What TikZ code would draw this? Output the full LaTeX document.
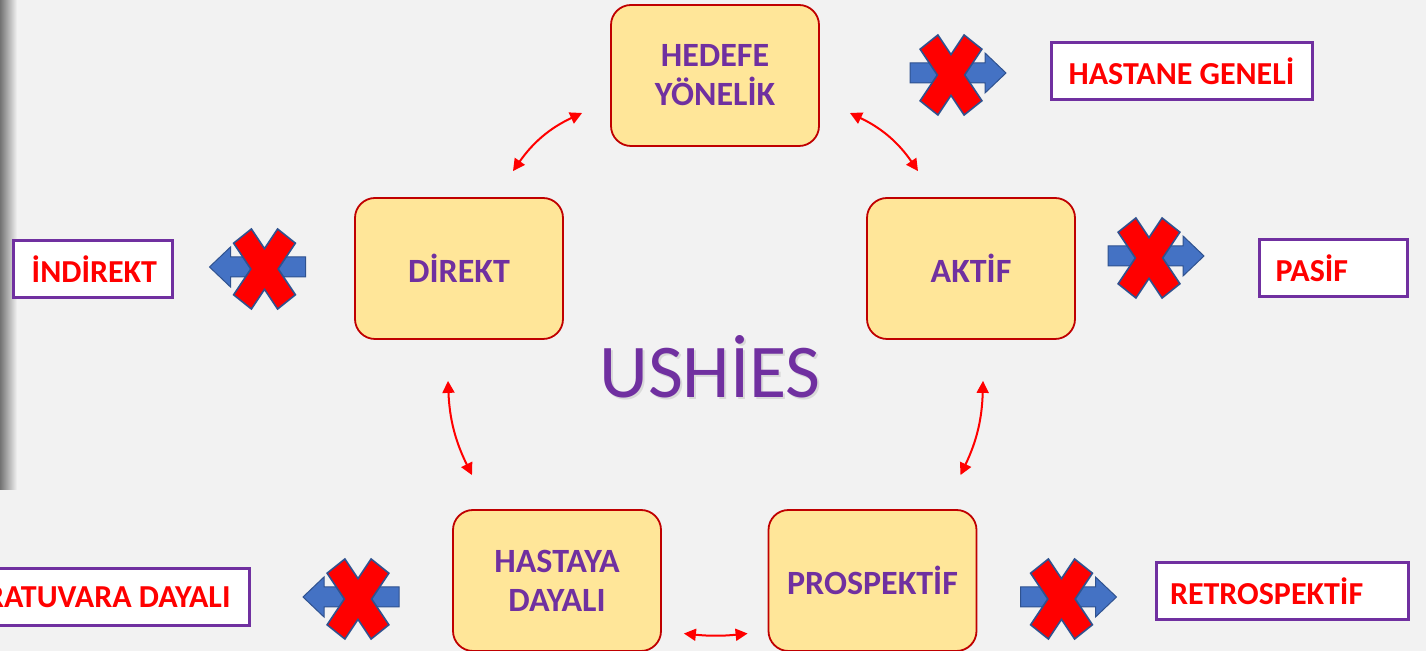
\documentclass[tikz,border=0pt]{standalone}
\usepackage{fontspec}
\setmainfont{Carlito}
\usetikzlibrary{arrows.meta,calc}
\definecolor{boxfill}{RGB}{255,230,153}
\definecolor{boxline}{RGB}{192,0,0}
\definecolor{txtpurple}{RGB}{112,48,160}
\definecolor{arrblue}{RGB}{68,114,196}
\definecolor{arrline}{RGB}{47,82,143}
\definecolor{slidebg}{RGB}{242,242,242}

\begin{document}
\begin{tikzpicture}[x=0.5pt, y=-0.5pt,
    box/.style={draw=boxline, line width=0.9pt, fill=boxfill, rounded corners=10pt, minimum width=104pt, minimum height=70.5pt, align=center, text=txtpurple, font=\fontsize{17}{19.5}\selectfont\bfseries},
    tag/.style={draw=txtpurple, line width=1.5pt, fill=white, minimum height=28.5pt, text=red, font=\fontsize{16}{19}\selectfont\bfseries},
    link/.style={red, line width=1pt, {Triangle[length=6pt,width=6pt]}-{Triangle[length=6pt,width=6pt]}},
    pics/nogo/.style={code={
        \fill[arrblue, draw=arrline, line width=0.5pt] (-48,-10) -- (27,-10) -- (27,-20) -- (48,0) -- (27,20) -- (27,10) -- (-48,10) -- cycle;
        \fill[red, draw=arrline, line width=0.8pt, shift={(-7,2)}] (-13.1,-40) -- (0,-20.4) -- (13.1,-40) -- (30.9,-25.8) -- (13.7,0) -- (30.9,25.8) -- (13.1,40) -- (0,20.4) -- (-13.1,40) -- (-30.9,25.8) -- (-13.7,0) -- (-30.9,-25.8) -- cycle;
    }}]
    \clip (0,0) rectangle (1426,651);
    \fill[slidebg] (0,0) rectangle (1426,651);
    \shade[left color=black!55, right color=slidebg] (0,0) rectangle (17,490);
    % Title
    \node[font=\fontsize{38}{40}\selectfont, text=black!15] (titleshadow) at (712,369) {USHİES};
    \node[font=\fontsize{38}{40}\selectfont, text=txtpurple] (title) at (710,367) {USHİES};
    % Main boxes
    \node[box] (hedefe) at (715,75.5) {HEDEFE\\YÖNELİK};
    \node[box] (direkt) at (459,268.5) {DİREKT};
    \node[box] (aktif) at (971,268.5) {AKTİF};
    \node[box] (hastaya) at (557,580.5) {HASTAYA\\DAYALI};
    \node[box] (prosp) at (872.5,580.5) {PROSPEKTİF};
    % Rejected alternatives
    \node[tag, minimum width=130.5pt] (genel) at (1181.5,71.5) {HASTANE GENELİ};
    \node[tag, text width=64.5pt, align=right, inner xsep=7.5pt] (indirekt) at (92.5,269) {İNDİREKT};
    \node[tag, text width=58pt, align=left, inner xsep=8pt] (pasif) at (1333.5,268.5) {PASİF};
    \node[tag, anchor=east, inner xsep=9.5pt] (labo) at (251,597.5) {LABORATUVARA DAYALI};
    \node[tag, text width=112pt, align=left, inner xsep=7pt] (retro) at (1282,591) {RETROSPEKTİF};
    % Crossed arrows
    \pic at (958,73) {nogo};
    \pic[xscale=-1] at (257.5,267) {nogo};
    \pic at (1156,256) {nogo};
    \pic[xscale=-1] at (351,597) {nogo};
    \pic at (1068.5,597) {nogo};
    % Links
    \draw[link] ([shift={(54,-26)}]direkt.north) to[bend left=15] ([shift={(-28,37.5)}]hedefe.west);
    \draw[link] ([shift={(30,37.5)}]hedefe.east) to[bend left=15] ([shift={(-53,-26)}]aktif.north);
    \draw[link] ([shift={(-11,41)}]direkt.south) to[bend right=12] ([shift={(-85,-34)}]hastaya.north);
    \draw[link] ([shift={(12,41)}]aktif.south) to[bend left=12] ([shift={(88,-34)}]prosp.north);
    \draw[link] ([shift={(22,53)}]hastaya.east) to[bend right=6] ([shift={(-20,53)}]prosp.west);
\end{tikzpicture}
\end{document}
